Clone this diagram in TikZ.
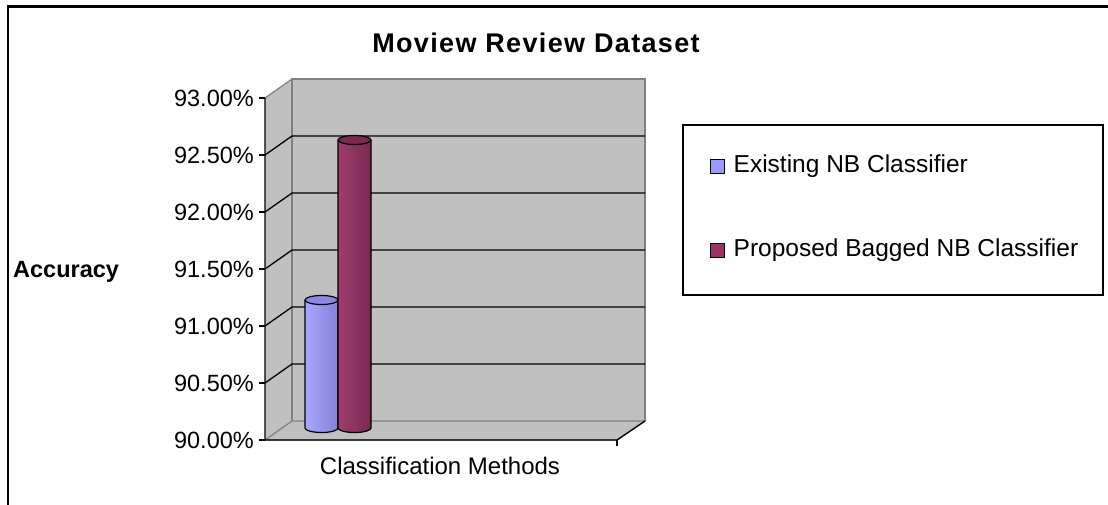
\documentclass[tikz,border=0pt]{standalone}
\usepackage{fontspec}
\setmainfont{Liberation Sans}
\usepackage{tikz}
\usetikzlibrary{positioning}
\definecolor{wallgray}{HTML}{C0C0C0}
\definecolor{edgegray}{HTML}{808080}
\definecolor{nbblue}{HTML}{9999FF}
\definecolor{nbplum}{HTML}{993366}
\tikzset{
  wall/.style={fill=wallgray,draw=edgegray,line width=1.2pt},
  gridln/.style={line width=1.3pt},
  ticklbl/.style={font=\fontsize{23.5}{24}\selectfont,anchor=east,inner sep=0pt},
  leg/.style={font=\fontsize{24.5}{25}\selectfont,anchor=west,inner sep=0pt},
  swatch/.style={draw,line width=1pt,minimum size=14pt,inner sep=0pt},
  barline/.style={draw=black,line width=1.2pt},
}

\begin{document}
\begin{tikzpicture}[x=1pt,y=-1pt]
\useasboundingbox (0,0) rectangle (1108,504);

% chart frame (runs off the page right and bottom)
\draw[line width=2.5pt] (8,6.5) rectangle (1125,520);

\node[font=\bfseries\fontsize{27}{27}\selectfont\addfontfeature{LetterSpace=5}] (title) at (536,43) {Moview Review Dataset};

% walls and floor
\fill[wallgray] (292,79) rectangle (645,421);
\fill[wallgray] (265,98) -- (292,79) -- (292,421) -- (265,440) -- cycle;
\draw[edgegray,line width=1.2pt] (292,421) -- (292,79) -- (645,79) -- (645,421);
\draw[wall] (265,440) -- (292,421) -- (645,421) -- (617,440) -- cycle;
\draw[edgegray,line width=1.2pt] (265,98) -- (292,79);

% gridlines, ticks and labels
\foreach \i/\lbl in {0/90.00\%,1/90.50\%,2/91.00\%,3/91.50\%,4/92.00\%,5/92.50\%,6/93.00\%}{
  \pgfmathsetmacro\yf{440-57*\i}
  \pgfmathsetmacro\yb{421-57*\i}
  \ifnum\i>0 \ifnum\i<6
    \draw[gridln] (265,\yf) -- (292,\yb) -- (645,\yb);
  \fi\fi
  \draw[gridln] (259,\yf) -- (265,\yf);
  \node[ticklbl] (tick\i) at (254,\yf) {\lbl};
}

% axes
\draw[gridln] (265,98) -- (265,440) -- (617,440) -- (645,421);
\draw[gridln] (617,440) -- (617,446);

% Existing NB bar
\shade[left color=nbblue!85!white,right color=nbblue!85!black]
  (305,300) -- (305,428) arc[start angle=180,end angle=0,x radius=16.5,y radius=4.5] -- (338,300) -- cycle;
\draw[barline] (305,300) -- (305,428) arc[start angle=180,end angle=0,x radius=16.5,y radius=4.5] -- (338,300);
\filldraw[barline,fill=nbblue!90!black] (321.5,300) ellipse[x radius=16.5,y radius=4.5];

% Proposed bagged NB bar
\shade[left color=nbplum!95!white,right color=nbplum!80!black]
  (338,140) -- (338,428) arc[start angle=180,end angle=0,x radius=16.5,y radius=4.5] -- (371,140) -- cycle;
\draw[barline] (338,140) -- (338,428) arc[start angle=180,end angle=0,x radius=16.5,y radius=4.5] -- (371,140);
\filldraw[barline,fill=nbplum!80!black] (354.5,140) ellipse[x radius=16.5,y radius=4.5];

% axis titles
\node[font=\bfseries\fontsize{23.5}{24}\selectfont,anchor=west,inner sep=0pt] (ylab) at (13,272) {Accuracy};
\node[font=\fontsize{24}{25}\selectfont] (xlab) at (440,466) {Classification Methods};

% legend
\node[draw,line width=1.5pt,minimum width=420pt,minimum height=170pt,anchor=north west,inner sep=0pt] (legend) at (682,124) {};
\node[swatch,fill=nbblue] (swA) at (717,166) {};
\node[leg,right=9pt of swA] (legA) {Existing NB Classifier};
\node[swatch,fill=nbplum] (swB) at (717,250) {};
\node[leg,right=9pt of swB] (legB) {Proposed Bagged NB Classifier};
\end{tikzpicture}
\end{document}
